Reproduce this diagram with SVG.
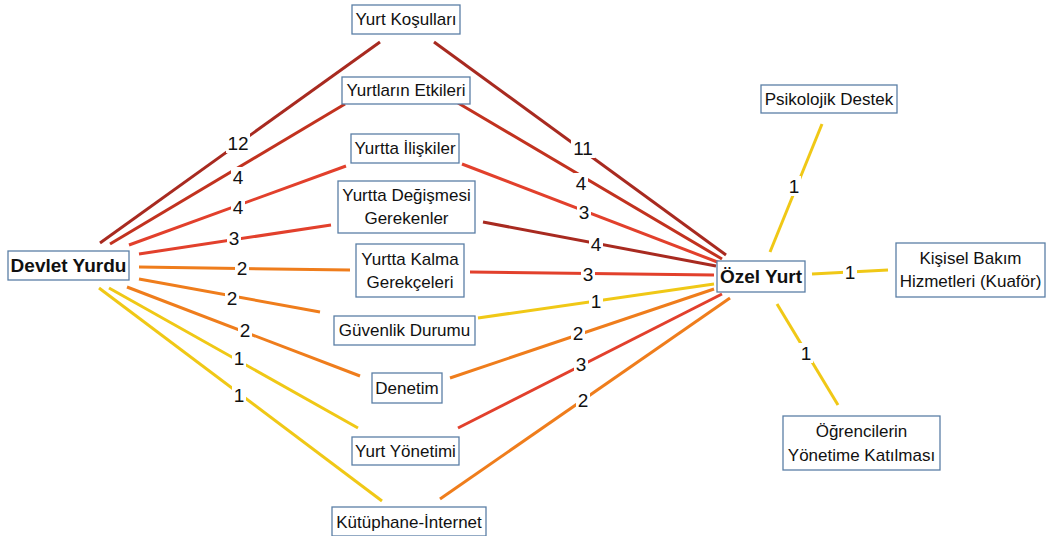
<svg xmlns="http://www.w3.org/2000/svg" width="1051" height="536" viewBox="0 0 1051 536">
<style>
.box{fill:#fff;stroke:#5b7fa6;stroke-width:1.3}
.t{font-family:"Liberation Sans",Arial,sans-serif;font-size:17px;fill:#111;text-anchor:middle}
.b{font-weight:bold;font-size:19px}
.n{font-family:"Liberation Sans",Arial,sans-serif;font-size:19px;fill:#111;text-anchor:middle}
.lb{fill:#fff}
.dr{stroke:#a82a20;stroke-width:3;fill:none}
.r{stroke:#e2402c;stroke-width:3;fill:none}
.o{stroke:#ef7d1c;stroke-width:3;fill:none}
.y{stroke:#f0c816;stroke-width:3;fill:none}
</style>
<rect width="1051" height="536" fill="#fff"/>
<g id="connectors">
<line class="dr" x1="100" y1="243" x2="380" y2="42"/>
<line class="dr" x1="110" y1="244" x2="345" y2="104" style="stroke:#c2321f"/>
<line class="r" x1="129" y1="245" x2="346" y2="166"/>
<line class="r" x1="139" y1="254" x2="331" y2="225"/>
<line class="o" x1="139" y1="267" x2="350" y2="270"/>
<line class="o" x1="139" y1="279" x2="320" y2="312"/>
<line class="o" x1="127" y1="287" x2="360" y2="376"/>
<line class="y" x1="109" y1="288" x2="358" y2="428"/>
<line class="y" x1="99" y1="288" x2="382" y2="501"/>
<line class="dr" x1="434" y1="42" x2="726" y2="255"/>
<line class="dr" x1="458" y1="103" x2="722" y2="259" style="stroke:#c2321f"/>
<line class="r" x1="462" y1="164" x2="720" y2="263"/>
<line class="dr" x1="483" y1="222" x2="716" y2="266"/>
<line class="r" x1="470" y1="272" x2="714" y2="275"/>
<line class="y" x1="478" y1="318" x2="714" y2="284"/>
<line class="o" x1="450" y1="378" x2="714" y2="289"/>
<line class="r" x1="458" y1="428" x2="722" y2="294"/>
<line class="o" x1="440" y1="499" x2="730" y2="298"/>
<line class="y" x1="770" y1="252" x2="822" y2="124"/>
<line class="y" x1="812" y1="274" x2="888" y2="270"/>
<line class="y" x1="777" y1="304" x2="838" y2="405"/>
<g id="labels">
<rect class="lb" x="226" y="133" width="24" height="20"/><text class="n" x="238" y="150">12</text>
<rect class="lb" x="231" y="167" width="14" height="20"/><text class="n" x="238" y="184">4</text>
<rect class="lb" x="231" y="197" width="14" height="20"/><text class="n" x="238" y="214">4</text>
<rect class="lb" x="227" y="228" width="14" height="20"/><text class="n" x="234" y="245">3</text>
<rect class="lb" x="235" y="258" width="14" height="20"/><text class="n" x="242" y="275">2</text>
<rect class="lb" x="225" y="288" width="14" height="20"/><text class="n" x="232" y="305">2</text>
<rect class="lb" x="238" y="320" width="14" height="20"/><text class="n" x="245" y="337">2</text>
<rect class="lb" x="232" y="348" width="14" height="20"/><text class="n" x="239" y="365">1</text>
<rect class="lb" x="232" y="385" width="14" height="20"/><text class="n" x="239" y="402">1</text>
<rect class="lb" x="571" y="138" width="24" height="20"/><text class="n" x="583" y="155">11</text>
<rect class="lb" x="574" y="173" width="14" height="20"/><text class="n" x="581" y="190">4</text>
<rect class="lb" x="577" y="202" width="14" height="20"/><text class="n" x="584" y="219">3</text>
<rect class="lb" x="589" y="234" width="14" height="20"/><text class="n" x="596" y="251">4</text>
<rect class="lb" x="581" y="264" width="14" height="20"/><text class="n" x="588" y="281">3</text>
<rect class="lb" x="589" y="291" width="14" height="20"/><text class="n" x="596" y="308">1</text>
<rect class="lb" x="571" y="323" width="14" height="20"/><text class="n" x="578" y="340">2</text>
<rect class="lb" x="574" y="354" width="14" height="20"/><text class="n" x="581" y="371">3</text>
<rect class="lb" x="576" y="390" width="14" height="20"/><text class="n" x="583" y="407">2</text>
<rect class="lb" x="787" y="176" width="14" height="20"/><text class="n" x="794" y="193">1</text>
<rect class="lb" x="843" y="262" width="14" height="20"/><text class="n" x="850" y="279">1</text>
<rect class="lb" x="799" y="343" width="14" height="20"/><text class="n" x="806" y="360">1</text>
</g>
</g>
<g id="devlet"><rect class="box" x="8" y="251" width="121" height="29"/><text class="t b" x="68.5" y="272">Devlet Yurdu</text></g>
<g id="kosullar"><rect class="box" x="352" y="5" width="108" height="29"/><text class="t" x="406" y="25">Yurt Koşulları</text></g>
<g id="etkiler"><rect class="box" x="342" y="77" width="128" height="27"/><text class="t" x="406" y="96">Yurtların Etkileri</text></g>
<g id="iliskiler"><rect class="box" x="351" y="134" width="108" height="29"/><text class="t" x="405" y="154">Yurtta İlişkiler</text></g>
<g id="degisme"><rect class="box" x="338" y="181" width="137" height="52"/><text class="t" x="406.5" y="201">Yurtta Değişmesi</text><text class="t" x="406.5" y="224">Gerekenler</text></g>
<g id="kalma"><rect class="box" x="356" y="244" width="108" height="53"/><text class="t" x="410" y="265">Yurtta Kalma</text><text class="t" x="410" y="288">Gerekçeleri</text></g>
<g id="guvenlik"><rect class="box" x="334" y="316" width="141" height="29"/><text class="t" x="404.5" y="336">Güvenlik Durumu</text></g>
<g id="denetim"><rect class="box" x="372" y="373" width="70" height="30"/><text class="t" x="407" y="394">Denetim</text></g>
<g id="yonetim"><rect class="box" x="352" y="437" width="107" height="28"/><text class="t" x="405.5" y="457">Yurt Yönetimi</text></g>
<g id="kutuphane"><rect class="box" x="332" y="507" width="154" height="29"/><text class="t" x="409" y="528">Kütüphane-İnternet</text></g>
<g id="ozel"><rect class="box" x="717" y="261" width="88" height="31"/><text class="t b" x="761" y="283">Özel Yurt</text></g>
<g id="psikolojik"><rect class="box" x="761" y="85" width="136" height="28"/><text class="t" x="829" y="105">Psikolojik Destek</text></g>
<g id="kisisel"><rect class="box" x="896" y="243" width="149" height="54"/><text class="t" x="970.5" y="264">Kişisel Bakım</text><text class="t" x="970.5" y="287">Hizmetleri (Kuaför)</text></g>
<g id="ogrenciler"><rect class="box" x="783" y="416" width="157" height="54"/><text class="t" x="861.5" y="437">Öğrencilerin</text><text class="t" x="861.5" y="461">Yönetime Katılması</text></g>
</svg>
